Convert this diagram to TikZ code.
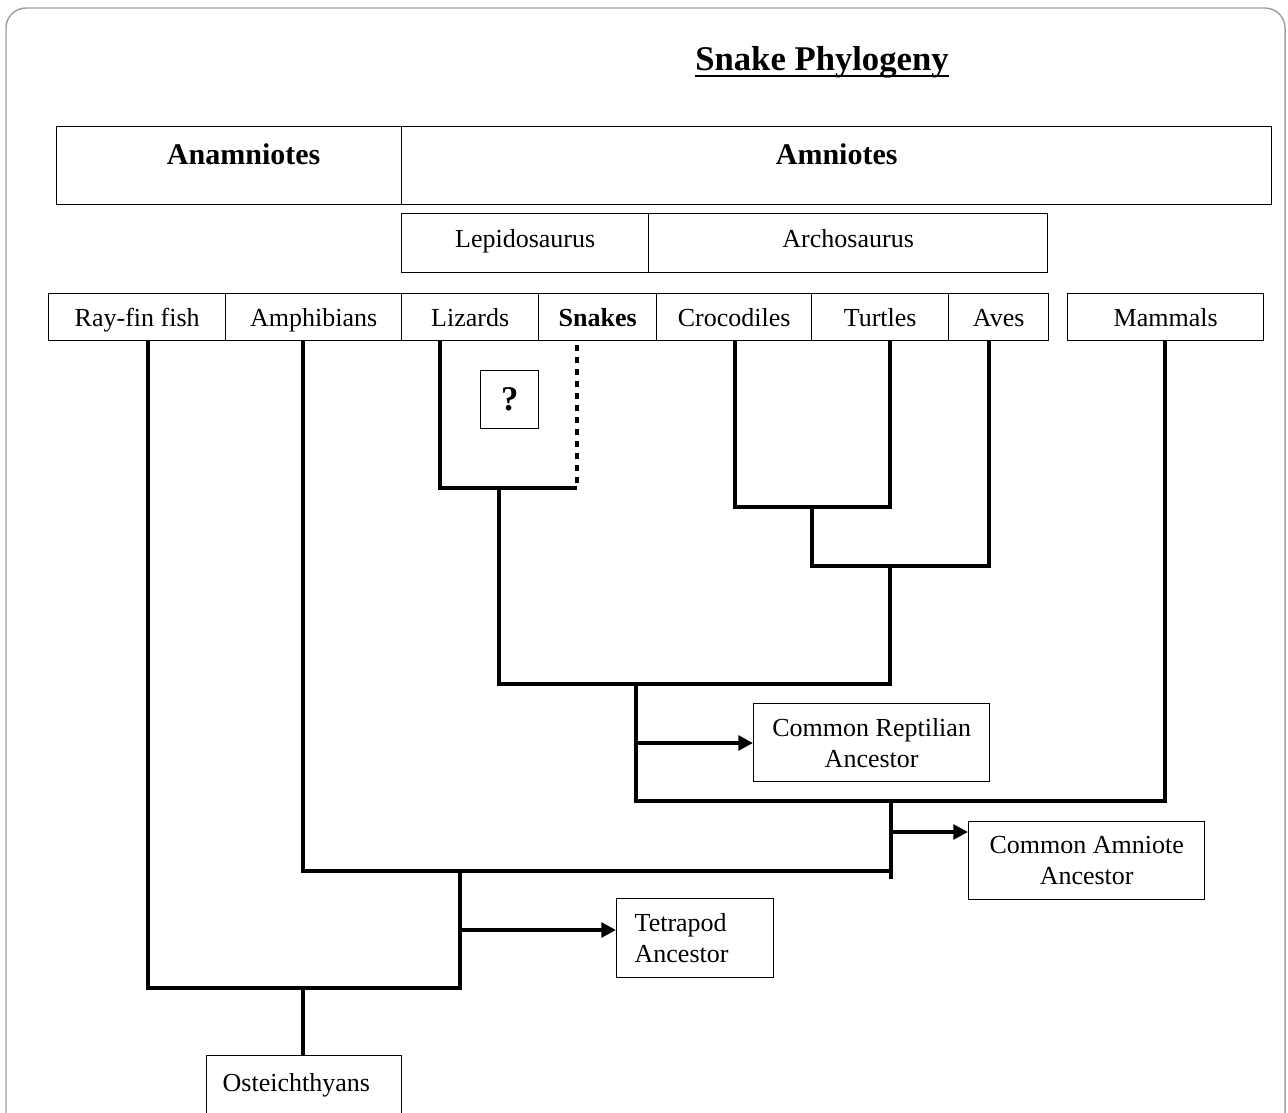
\documentclass[tikz,border=0pt]{standalone}
\usepackage{fontspec}
\setmainfont{Liberation Serif}
\usetikzlibrary{arrows.meta,calc}
\tikzset{every picture/.style={line width=0.75pt}}

\begin{document}
\begin{tikzpicture}[x=0.75pt,y=0.75pt,yscale=-1,xscale=1,
  cell/.style n args={2}{draw, line width=1pt, anchor=north west, inner sep=0pt,
    minimum width=#1*0.75pt, minimum height=#2*0.75pt,
    font=\fontsize{19.5}{23.25}\selectfont},
  oneline/.style={text height=16pt, text depth=1.8pt},
  clade/.style={text height=12.15pt, text depth=5.4pt},
  head/.style={font=\bfseries\fontsize{22.5}{27}\selectfont, text height=15.75pt, text depth=17.25pt},
  branch/.style={line width=3.3pt, line join=miter},
  stem/.style={line width=2.7pt},
  snakedots/.style={line width=3.6pt, dash pattern=on 4.5pt off 4.5pt},
  toancestor/.style={line width=3.3pt, -{Triangle[length=11pt,width=11pt]}}]
\useasboundingbox (0,0) rectangle (1288,1113);
\clip (0,0) rectangle (1288,1113);

%Frame
\draw [color={rgb, 255:red, 160; green, 160; blue, 160 }, line width=1.1pt, rounded corners=15pt] (6,8) rectangle (1285,1160);

% Title
\node [font=\bfseries\fontsize{26}{31}\selectfont, anchor=base, inner sep=0pt] (title) at (822,71) {Snake Phylogeny};
\draw [line width=1.4pt] ($(title.base west)+(0,5)$) -- ($(title.base east)+(0,5)$);

% Header boxes
\node [cell={345}{78}, head] (anamn) at (56,126) {\hspace*{21.75pt}Anamniotes};
\node [cell={870}{78}, head] (amnio) at (401,126) {Amniotes};
\node [cell={247}{59}, clade] (lepido) at (401,213) {Lepidosaurus};
\node [cell={399}{59}, clade] (archo) at (648,213) {Archosaurus};

% Taxa
\node [cell={177}{47}, oneline] (rayfin) at (48,293) {Ray-fin fish};
\node [cell={176}{47}, oneline] (amphib) at (225,293) {Amphibians};
\node [cell={137}{47}, oneline] (lizard) at (401,293) {Lizards};
\node [cell={118}{47}, oneline] (snake) at (538,293) {\textbf{Snakes}};
\node [cell={155}{47}, oneline] (croc) at (656,293) {Crocodiles};
\node [cell={137}{47}, oneline] (turtle) at (811,293) {Turtles};
\node [cell={100}{47}, oneline] (aves) at (948,293) {Aves};
\node [cell={196}{47}, oneline] (mammal) at (1067,293) {Mammals};
\node [cell={58}{58}, font=\bfseries\fontsize{26}{31}\selectfont] (quest) at (480,370) {?};

% Ancestors
\node [cell={236}{78}, align=center] (reptanc) at (753,703) {Common Reptilian\\Ancestor};
\node [cell={236}{78}, align=center] (amnanc) at (968,821) {Common Amniote\\Ancestor};
\node [cell={157}{79}, align=left, inner xsep=13.5pt, text width=90.75pt] (tetanc) at (616,898) {Tetrapod\\Ancestor};
\node [cell={195}{100}, align=left, inner xsep=12pt, text width=122.25pt, text height=13.65pt, text depth=34.65pt] (osteich) at (206,1055) {Osteichthyans};

% Branch points
\coordinate (tRay) at (148,340);
\coordinate (tAmph) at (303,340);
\coordinate (tLiz) at (440,340);
\coordinate (tSnk) at (577,345);
\coordinate (tCroc) at (735,340);
\coordinate (tTur) at (890,340);
\coordinate (tAves) at (989,340);
\coordinate (tMam) at (1165,340);
\coordinate (jSnk) at (577,488);
\coordinate (jLep) at (499,488);
\coordinate (jTur) at (890,507);
\coordinate (jArc) at (812,507);
\coordinate (jAves) at (989,566);
\coordinate (jArcB) at (890,566);
\coordinate (jRepT) at (636,684);
\coordinate (jRep) at (636,743);
\coordinate (jAmnT) at (891,801);
\coordinate (jAmn) at (891,832);
\coordinate (jAmnB) at (891,879);
\coordinate (jTetT) at (460,871);
\coordinate (jTet) at (460,930);
\coordinate (jOst) at (303,988);

% Lepidosaurs
\draw [branch] (tLiz) |- (jSnk) ;
\draw [snakedots] (tSnk) -- (jSnk) ;
% Archosaurs
\draw [branch] (tCroc) |- (jTur) -- (tTur) ;
\draw [branch] (jArc) |- (jAves) -- (tAves) ;
% Reptiles
\draw [branch] (jLep) |- (jArcB |- jRepT) -- (jArcB) ;
\draw [branch] (jRepT) |- (jAmnT -| tMam) -- (tMam) ;
\draw [toancestor] (jRep) -- (jRep -| reptanc.west) ;
% Amniotes
\draw [branch] (tAmph) |- (jTetT -| jAmn) ;
\draw [branch] (jAmnT) -- (jAmnB) ;
\draw [toancestor] (jAmn) -- (jAmn -| amnanc.west) ;
% Tetrapods
\draw [branch] (tRay) |- (jOst -| jTet) -- (jTetT) ;
\draw [toancestor] (jTet) -- (jTet -| tetanc.west) ;
% Root
\draw [stem] (jOst) -- (osteich.north -| jOst) ;

\end{tikzpicture}
\end{document}
